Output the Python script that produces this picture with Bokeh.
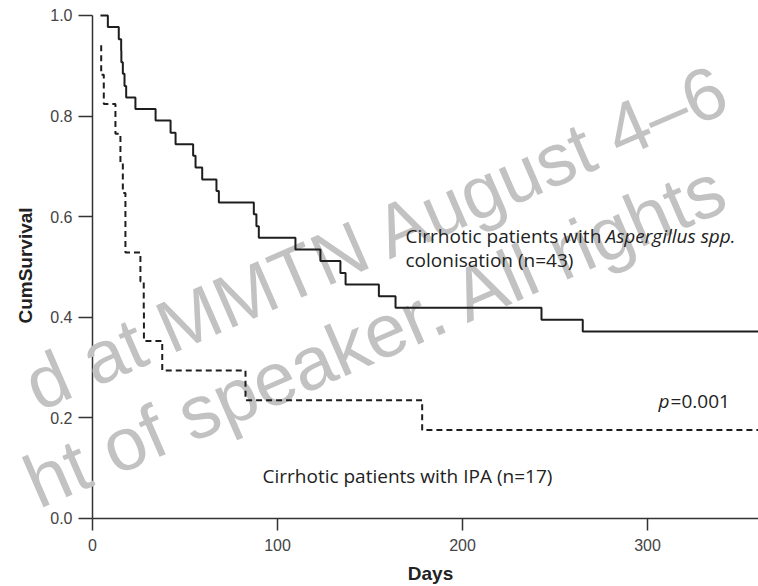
from bokeh.plotting import figure
from bokeh.models import Range1d, Label, FixedTicker, NumeralTickFormatter
from bokeh.embed import file_html
from bokeh.resources import INLINE

# Kaplan-Meier curve: cirrhotic patients with Aspergillus colonisation (n=43)
days_colonised = [4.3, 8.3, 14.2, 15.5, 15.6, 16.4, 17.3, 18.2, 23.2, 34.1, 42.2, 44.9,
                  54.4, 55.7, 59.3, 67.0, 68.3, 87.2, 88.6, 89.9, 109.7, 123.2, 134.0,
                  136.8, 154.8, 163.8, 242.7, 265.0, 365.0]
surv_colonised = [1.0, 0.977, 0.953, 0.930, 0.907, 0.884, 0.860, 0.837, 0.814, 0.791,
                  0.767, 0.744, 0.721, 0.698, 0.674, 0.651, 0.628, 0.605, 0.581, 0.558,
                  0.535, 0.512, 0.488, 0.465, 0.442, 0.419, 0.395, 0.372, 0.372]

# Kaplan-Meier curve: cirrhotic patients with IPA (n=17)
days_ipa = [4.7, 4.7, 6.1, 12.4, 15.1, 16.4, 17.8, 25.9, 27.7, 27.8, 37.7, 82.7, 178.2, 365.0]
surv_ipa = [0.941, 0.882, 0.824, 0.765, 0.706, 0.647, 0.529, 0.471, 0.412, 0.353, 0.294,
            0.235, 0.176, 0.176]

x_ticks = [0, 100, 200, 300]
y_ticks = [0.0, 0.2, 0.4, 0.6, 0.8, 1.0]

x_title = "Days"
y_title = "CumSurvival"
label_colonised_1 = "Cirrhotic patients with "
label_colonised_italic = "Aspergillus spp."
label_colonised_2 = "colonisation (n=43)"
label_ipa = "Cirrhotic patients with IPA (n=17)"
p_label = "p"
p_value = "=0.001"
watermark_1 = "d at MMTN August 4\u20136"
watermark_2 = "ht of speaker. All rights"

# frame covers the whole canvas; axes sit at fixed data locations (day 0 / survival 0)
p = figure(width=758, height=586, output_backend="svg", toolbar_location=None,
           x_range=Range1d(-49.73, 360), y_range=Range1d(-0.1352, 1.0298),
           min_border=0)
p.outline_line_color = None
p.grid.visible = False
p.background_fill_color = "white"

# watermark (data units: day=(px-92)/1.85, surv=(518-py)/503)
wm_font = "Liberation Sans"
for txt, x, y, size in [(watermark_1, -34.6, 0.2584, "74px"),
                        (watermark_2, -34.6, 0.0656, "75px")]:
    p.add_layout(Label(x=x, y=y, text=txt, angle=23.5, angle_units="deg",
                       text_font=wm_font, text_font_size=size, text_color="#c2c2c2",
                       text_baseline="alphabetic", level="annotation"))

r1 = p.step(days_colonised, surv_colonised, mode="after", line_color="#1e1e1e", line_width=2)
r2 = p.step(days_ipa, surv_ipa, mode="after", line_color="#1e1e1e", line_width=2, line_dash="6 4")
r1.level = "overlay"
r2.level = "overlay"

tf = "Open Sans"
tc = "#222222"
fs = "19px"
p.add_layout(Label(x=169.2, y=0.5626, text=label_colonised_1, text_font=tf,
                   text_font_size=fs, text_color=tc, text_baseline="alphabetic", level="overlay"))
p.add_layout(Label(x=169.2, y=0.5626, x_offset=200, text=label_colonised_italic, text_font=tf,
                   text_font_style="italic", text_font_size=fs, text_color=tc,
                   text_baseline="alphabetic", level="overlay"))
p.add_layout(Label(x=169.2, y=0.513, text=label_colonised_2, text_font=tf,
                   text_font_size=fs, text_color=tc, text_baseline="alphabetic", level="overlay"))
p.add_layout(Label(x=91.9, y=0.0835, text=label_ipa, text_font=tf,
                   text_font_size=fs, text_color=tc, text_baseline="alphabetic", level="overlay"))
p.add_layout(Label(x=306, y=0.2326, text=p_label, text_font=tf, text_font_style="italic",
                   text_font_size=fs, text_color=tc, text_baseline="alphabetic", level="overlay"))
p.add_layout(Label(x=306, y=0.2326, x_offset=12, text=p_value, text_font=tf,
                   text_font_size=fs, text_color=tc, text_baseline="alphabetic", level="overlay"))

# axis titles
p.add_layout(Label(x=182.7, y=-0.109, text=x_title, text_font="Liberation Sans",
                   text_font_style="bold", text_font_size="19px", text_color="#222222",
                   text_align="center", text_baseline="middle", level="overlay"))
p.add_layout(Label(x=-36.2, y=0.503, text=y_title, text_font="Liberation Sans",
                   text_font_style="bold", text_font_size="19px", text_color="#222222",
                   angle=90, angle_units="deg",
                   text_align="center", text_baseline="middle", level="overlay"))

# axes
for ax in (p.xaxis, p.yaxis):
    ax.fixed_location = 0
    ax.axis_line_color = "#333333"
    ax.axis_line_width = 1.5
    ax.major_tick_line_color = "#333333"
    ax.major_tick_line_width = 1.5
    ax.major_tick_in = 0
    ax.minor_tick_line_color = None
    ax.major_label_text_font = "Liberation Sans"
    ax.major_label_text_font_size = "16px"
    ax.major_label_text_color = "#444444"

p.xaxis.ticker = FixedTicker(ticks=x_ticks)
p.xaxis.bounds = (0, 365)
p.xaxis.major_tick_out = 12
p.xaxis.major_label_standoff = 9

p.yaxis.ticker = FixedTicker(ticks=y_ticks)
p.yaxis.formatter = NumeralTickFormatter(format="0.0")
p.yaxis.bounds = (0, 1)
p.yaxis.major_tick_out = 14
p.yaxis.major_label_standoff = 6

open("out.html", "w").write(file_html(p, INLINE))
